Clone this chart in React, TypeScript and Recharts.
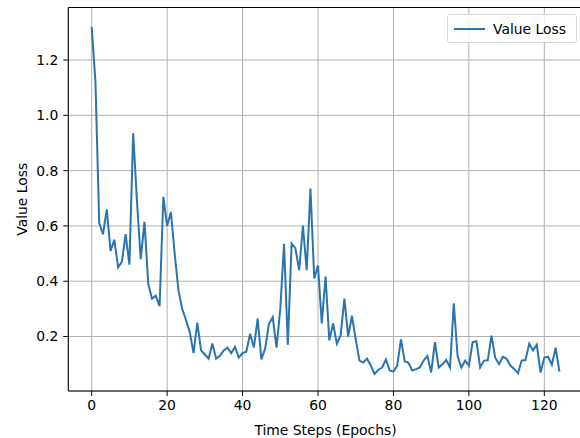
import React from 'react';
import {
  LineChart,
  Line,
  XAxis,
  YAxis,
  CartesianGrid,
  Legend,
  ReferenceArea,
} from 'recharts';

// value loss per epoch (epoch = index)
const valueLoss = [
  1.32, 1.12, 0.61, 0.57, 0.66, 0.51, 0.55, 0.45, 0.47, 0.57,
  0.46, 0.935, 0.69, 0.48, 0.615, 0.39, 0.337, 0.348, 0.31, 0.705,
  0.6, 0.65, 0.5, 0.367, 0.3, 0.26, 0.216, 0.14, 0.25, 0.15,
  0.135, 0.12, 0.175, 0.12, 0.13, 0.15, 0.16, 0.14, 0.163, 0.124,
  0.14, 0.145, 0.21, 0.16, 0.265, 0.117, 0.157, 0.246, 0.27, 0.16,
  0.3, 0.535, 0.17, 0.537, 0.52, 0.44, 0.6, 0.44, 0.735, 0.41,
  0.457, 0.247, 0.417, 0.186, 0.247, 0.174, 0.204, 0.337, 0.2, 0.275,
  0.19, 0.113, 0.106, 0.12, 0.095, 0.065, 0.08, 0.088, 0.117, 0.077,
  0.073, 0.095, 0.19, 0.11, 0.105, 0.077, 0.082, 0.088, 0.113, 0.13,
  0.07, 0.18, 0.088, 0.1, 0.115, 0.088, 0.32, 0.13, 0.088, 0.113,
  0.095, 0.18, 0.183, 0.088, 0.113, 0.114, 0.203, 0.123, 0.1, 0.127,
  0.12, 0.095, 0.083, 0.067, 0.113, 0.115, 0.174, 0.15, 0.17, 0.07,
  0.124, 0.127, 0.098, 0.16, 0.073,
];

const xTicks = [0, 20, 40, 60, 80, 100, 120];
const yTicks = [0.2, 0.4, 0.6, 0.8, 1.0, 1.2];

const data = valueLoss.map((v, i) => ({ epoch: i, loss: v }));

const FONT = '"DejaVu Sans", sans-serif';
const BLUE = '#2a74b0';

const LegendBox = () => (
  <div
    style={{
      width: 128,
      height: 27,
      border: '1px solid #d6d6d6',
      borderRadius: 3,
      background: 'rgba(255,255,255,0.8)',
      display: 'flex',
      alignItems: 'center',
      fontFamily: FONT,
      fontSize: 13.9,
      color: '#000',
    }}
  >
    <svg width={40} height={10} style={{ marginLeft: 5 }}>
      <line x1={1} y1={5} x2={32} y2={5} stroke={BLUE} strokeWidth={2} />
    </svg>
    <span>Value Loss</span>
  </div>
);

const App: React.FC = () => {
  return (
    <div style={{ position: 'absolute', left: 0, top: 0, width: 580, height: 438, overflow: 'hidden', background: '#fff' }}>
      <LineChart
        width={590}
        height={438}
        data={data}
        margin={{ top: 7.5, right: 7.2, bottom: 0, left: 0 }}
        style={{ fontFamily: FONT }}
      >
        <CartesianGrid stroke="#b0b0b0" strokeWidth={1} />
        <XAxis
          dataKey="epoch"
          type="number"
          domain={[-6.2, 130.2]}
          ticks={xTicks}
          allowDataOverflow
          height={47}
          stroke="#000"
          axisLine={false}
          tickSize={5}
          tickMargin={4}
          tick={{ fill: '#000', fontSize: 13.9 }}
          label={{ value: 'Time Steps (Epochs)', position: 'insideBottom', offset: 3, fill: '#000', fontSize: 13.9 }}
        />
        <YAxis
          type="number"
          domain={[0.003, 1.39]}
          ticks={yTicks}
          allowDataOverflow
          width={68.3}
          stroke="#000"
          axisLine={false}
          tickSize={5}
          tickMargin={5}
          tickFormatter={(v: number) => v.toFixed(1)}
          tick={{ fill: '#000', fontSize: 13.9 }}
          label={{
            value: 'Value Loss',
            angle: -90,
            position: 'insideLeft',
            offset: 22,
            fill: '#000',
            fontSize: 13.9,
            style: { textAnchor: 'middle' },
          }}
        />
        <ReferenceArea
          x1={-6.2}
          x2={130.2}
          y1={0.003}
          y2={1.39}
          fill="none"
          fillOpacity={0}
          stroke="#000"
          strokeWidth={1}
          ifOverflow="visible"
        />
        <Legend
          layout="horizontal"
          verticalAlign="middle"
          align="center"
          content={<LegendBox />}
          wrapperStyle={{ position: 'absolute', top: 14, left: 447, width: 130, height: 29 }}
        />
        <Line
          type="linear"
          dataKey="loss"
          name="Value Loss"
          stroke={BLUE}
          strokeWidth={2}
          dot={false}
          isAnimationActive={false}
        />
      </LineChart>
    </div>
  );
};

export default App;
